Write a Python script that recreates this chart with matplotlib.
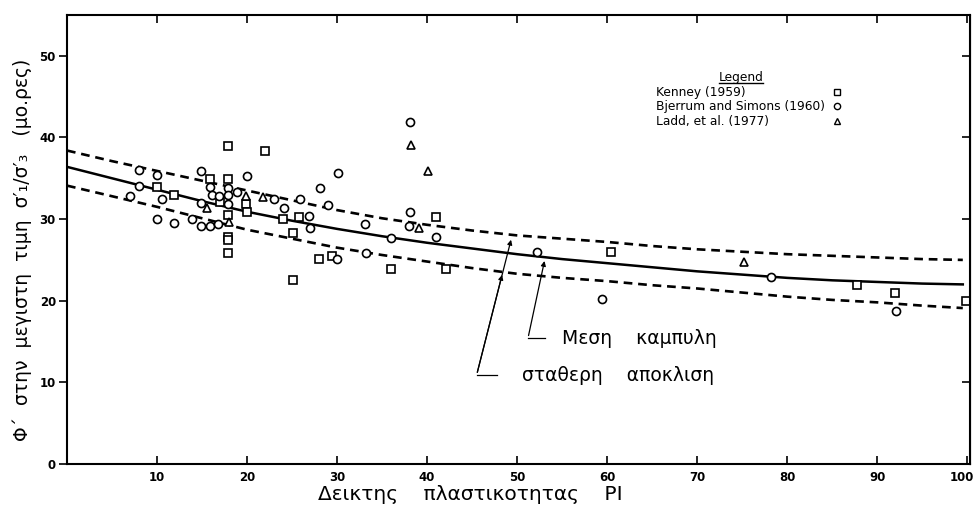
import matplotlib.pyplot as plt
from matplotlib.lines import Line2D
from matplotlib.transforms import ScaledTranslation

# --- data ---
# Kenney (1959) - squares
kenney_pi = [10, 11.9, 15.9, 17.9, 17.9, 17, 17.9, 17.9, 17.9, 17.9, 19.9, 20, 22,
             24, 25.8, 25.1, 25.1, 28, 29.4, 36, 41, 42.1, 60.4, 87.8, 92, 99.9]
kenney_phi = [33.9, 33.0, 34.9, 34.9, 39.0, 32.1, 30.5, 27.8, 27.4, 25.9, 31.9, 30.9, 38.4,
              30.0, 30.3, 28.3, 22.5, 25.1, 25.5, 23.9, 30.3, 23.9, 26.0, 21.9, 21.0, 20.0]

# Bjerrum and Simons (1960) - circles
bjerrum_pi = [7.0, 8.0, 8.0, 10.0, 10.5, 10.0, 11.9, 13.9, 14.9, 14.9, 14.9, 15.9, 16.8,
              15.9, 16.1, 16.9, 17.9, 17.9, 17.9, 18.9, 20.0, 23.0, 24.1, 25.9, 26.9, 27.0,
              28.1, 29.0, 30.1, 30.0, 33.1, 33.2, 36.0, 38.1, 38.1, 38.0, 41.0, 52.2, 59.4,
              78.2, 92.1]
bjerrum_phi = [32.8, 36.0, 34.0, 35.4, 32.4, 30.0, 29.5, 30.0, 35.9, 32.0, 29.1, 29.2, 29.4,
               33.9, 32.9, 32.8, 33.8, 32.9, 31.9, 33.3, 35.3, 32.4, 31.3, 32.4, 30.4, 28.9,
               33.8, 31.7, 35.6, 25.1, 29.4, 25.9, 27.7, 41.9, 30.9, 29.2, 27.8, 26.0, 20.2,
               22.9, 18.7]

# Ladd, et al. (1977) - triangles
ladd_pi = [15.5, 18.0, 19.9, 21.8, 38.2, 40.1, 39.1, 75.2]
ladd_phi = [31.3, 29.6, 32.8, 32.7, 39.1, 35.9, 28.9, 24.8]

# mean curve and +/- standard deviation curves
curve_pi = [0, 5, 10, 15, 20, 25, 30, 35, 40, 45, 50, 55, 60, 65, 70, 75, 80, 85, 90, 95, 99.5]
mean_phi = [36.4, 35.0, 33.6, 32.2, 30.9, 29.8, 28.8, 27.9, 27.1, 26.4, 25.7, 25.1, 24.6,
            24.1, 23.6, 23.2, 22.8, 22.5, 22.3, 22.1, 22.0]
upper_phi = [38.4, 37.1, 35.9, 34.7, 33.5, 32.3, 31.1, 30.1, 29.3, 28.6, 28.0, 27.6, 27.2,
             26.7, 26.3, 26.0, 25.7, 25.5, 25.3, 25.1, 25.0]
lower_phi = [34.1, 32.8, 31.5, 30.1, 28.7, 27.6, 26.5, 25.6, 24.8, 24.0, 23.3, 22.8, 22.4,
             21.9, 21.5, 21.0, 20.5, 20.1, 19.8, 19.4, 19.1]

legend_labels = ["Kenney (1959)", "Bjerrum and Simons (1960)", "Ladd, et al. (1977)"]

fig = plt.figure(figsize=(9.73, 5.07), dpi=100)
ax = fig.add_axes([67 / 973, 43 / 507, 903 / 973, 449 / 507])

ax.plot(curve_pi, mean_phi, color="black", lw=1.8)
ax.plot(curve_pi, upper_phi, color="black", lw=1.9, dashes=(3.3, 2.2))
ax.plot(curve_pi, lower_phi, color="black", lw=1.9, dashes=(3.3, 2.2))

mk = dict(ls="none", mfc="white", mec="black", mew=1.2, ms=5.8)
h1, = ax.plot(kenney_pi, kenney_phi, marker="s", **mk)
h2, = ax.plot(bjerrum_pi, bjerrum_phi, marker="o", **mk)
h3, = ax.plot(ladd_pi, ladd_phi, marker="^", **mk)

# annotations
ax.annotate("", xy=(49.4, 27.8), xytext=(45.5, 10.9),
            arrowprops=dict(arrowstyle="-|>", color="black", lw=0.9, mutation_scale=7))
ax.annotate("", xy=(48.4, 23.5), xytext=(45.5, 10.9),
            arrowprops=dict(arrowstyle="-|>", color="black", lw=0.9, mutation_scale=7))
ax.plot([45.5, 47.8], [10.9, 10.9], color="black", lw=0.9)
ax.annotate("", xy=(53.1, 25.2), xytext=(51.2, 15.4),
            arrowprops=dict(arrowstyle="-|>", color="black", lw=0.9, mutation_scale=7))
ax.plot([51.2, 53.1], [15.4, 15.4], color="black", lw=0.9)
ax.text(55, 15.4, "Μεση    καμπυλη", fontsize=13.5, va="center")
ax.text(50.5, 10.9, "σταθερη    αποκλιση", fontsize=13.5, va="center")

ax.set_xlim(0, 100.3)
ax.set_ylim(0, 55)
ax.set_xticks(range(10, 101, 10))
ax.set_yticks(range(0, 51, 10))
for s in ax.spines.values():
    s.set_linewidth(1.5)
ax.tick_params(axis="x", direction="in", top=True, length=6, width=1.2, pad=5)
ax.tick_params(axis="y", direction="out", length=6, width=1.2, pad=2)
for lab in ax.get_xticklabels() + ax.get_yticklabels():
    lab.set_fontsize(8.5)
    lab.set_fontweight("bold")
# keep the "100" label inside the picture
last = ax.get_xticklabels()[-1]
last.set_transform(last.get_transform() + ScaledTranslation(-5 / 100, 0, fig.dpi_scale_trans))

right = ax.secondary_yaxis("right")
right.set_yticks(range(0, 51, 10))
right.tick_params(direction="in", length=6, width=1.2, labelright=False)

# legend: text column and marker column as two legends
common = dict(frameon=False, fontsize=8.8, borderpad=0, labelspacing=0.12,
              title="Legend", title_fontsize=8.8)
leg_txt = ax.legend([h1, h2, h3], legend_labels, loc="upper left",
                    bbox_to_anchor=(0.646, 0.888), handlelength=0, handletextpad=0, **common)
for hd in leg_txt.legend_handles:
    hd.set_visible(False)
ax.add_artist(leg_txt)
leg_mk = ax.legend([Line2D([], [], marker="s", ls="none", mfc="white", mec="black", mew=1, ms=4.5),
                    Line2D([], [], marker="o", ls="none", mfc="white", mec="black", mew=1, ms=4.5),
                    Line2D([], [], marker="^", ls="none", mfc="white", mec="black", mew=1, ms=4.5)],
                   legend_labels, loc="upper right", bbox_to_anchor=(0.866, 0.888),
                   handlelength=1, handletextpad=0.8, markerfirst=False, **common)
for t in leg_mk.get_texts():
    t.set_alpha(0)
leg_mk.get_title().set_alpha(0)

fig.text(0.0226, 0.507, "Φ΄  στην  μεγιστη  τιμη  σ′₁/σ′₃   (μο.ρες)", rotation=90,
         ha="center", va="center", fontsize=13.5)
fig.text(0.483, 0.024, "Δεικτης    πλαστικοτητας    PI", ha="center", va="center", fontsize=14.5)

# underline the legend title
fig.canvas.draw()
bb = leg_txt.get_title().get_window_extent().transformed(fig.transFigure.inverted())
fig.add_artist(Line2D([bb.x0, bb.x1], [bb.y0 + 0.002, bb.y0 + 0.002], color="black", lw=1))

fig.savefig("out.png", dpi=100, facecolor="white")
